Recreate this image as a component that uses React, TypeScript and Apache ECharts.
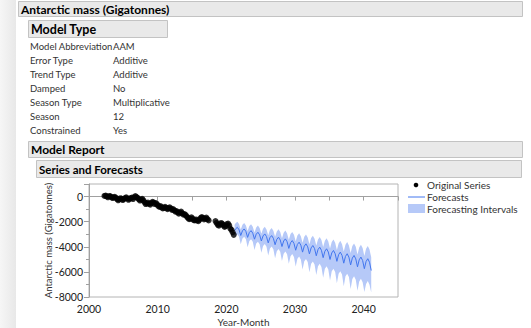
import React, { useEffect, useRef } from "react";
import * as echarts from "echarts";

// ---------- Data ----------
const origYears = [
  2002.25, 2002.42, 2002.58, 2002.75, 2002.92,
  2003.08, 2003.25, 2003.42, 2003.58, 2003.75, 2003.92,
  2004.08, 2004.25, 2004.42, 2004.58, 2004.75, 2004.92,
  2005.08, 2005.25, 2005.42, 2005.58, 2005.75, 2005.92,
  2006.08, 2006.25, 2006.42, 2006.58, 2006.75, 2006.92,
  2007.08, 2007.25, 2007.42, 2007.58, 2007.75, 2007.92,
  2008.08, 2008.25, 2008.42, 2008.58, 2008.75, 2008.92,
  2009.08, 2009.25, 2009.42, 2009.58, 2009.75, 2009.92,
  2010.08, 2010.25, 2010.42, 2010.58, 2010.75, 2010.92,
  2011.08, 2011.25, 2011.42, 2011.58, 2011.75, 2011.92,
  2012.08, 2012.25, 2012.42, 2012.58, 2012.75, 2012.92,
  2013.08, 2013.25, 2013.42, 2013.58, 2013.75, 2013.92,
  2014.08, 2014.25, 2014.42, 2014.58, 2014.75, 2014.92,
  2015.08, 2015.25, 2015.42, 2015.58, 2015.75, 2015.92,
  2016.08, 2016.25, 2016.42, 2016.58, 2016.75, 2016.92,
  2017.08, 2017.25, 2017.42,
  2018.42, 2018.58, 2018.75, 2018.92,
  2019.08, 2019.25, 2019.42, 2019.58, 2019.75, 2019.92,
  2020.08, 2020.25, 2020.42, 2020.58, 2020.75, 2020.92,
  2021.08,
];
const origValues = [
  50, 80, 20, -60, 30,
  40, -40, -120, -60, -20, -100,
  -200, -300, -220, -130, -180, -280,
  -200, -120, -60, -150, -260, -180,
  -120, -80, -200, -60, 40, -40,
  -100, -220, -320, -250, -180, -300,
  -450, -600, -550, -480, -580, -650,
  -520, -420, -480, -600, -520, -620,
  -750, -820, -760, -860, -950, -900,
  -820, -900, -1000, -920, -860, -960,
  -1060, -1000, -1100, -1200, -1150, -1260,
  -1360, -1280, -1200, -1330, -1450, -1400,
  -1480, -1600, -1700, -1800, -1760, -1650,
  -1750, -1880, -1900, -1820, -1900, -1960,
  -1850, -1720, -1640, -1700, -1820, -1760,
  -1680, -1800, -1900,
  -1950, -2100, -2250, -2320,
  -2200, -2100, -2180, -2300, -2420, -2350,
  -2200, -2150, -2300, -2550, -2650, -2850,
  -3050,
];

const fcYears = [
  2021.2, 2021.35, 2021.6, 2021.85,
  2022.1, 2022.35, 2022.6, 2022.85,
  2023.1, 2023.35, 2023.6, 2023.85,
  2024.1, 2024.35, 2024.6, 2024.85,
  2025.1, 2025.35, 2025.6, 2025.85,
  2026.1, 2026.35, 2026.6, 2026.85,
  2027.1, 2027.35, 2027.6, 2027.85,
  2028.1, 2028.35, 2028.6, 2028.85,
  2029.1, 2029.35, 2029.6, 2029.85,
  2030.1, 2030.35, 2030.6, 2030.85,
  2031.1, 2031.35, 2031.6, 2031.85,
  2032.1, 2032.35, 2032.6, 2032.85,
  2033.1, 2033.35, 2033.6, 2033.85,
  2034.1, 2034.35, 2034.6, 2034.85,
  2035.1, 2035.35, 2035.6, 2035.85,
  2036.1, 2036.35, 2036.6, 2036.85,
  2037.1, 2037.35, 2037.6, 2037.85,
  2038.1, 2038.35, 2038.6, 2038.85,
  2039.1, 2039.35, 2039.6, 2039.85,
  2040.1, 2040.35, 2040.6, 2040.85,
  2041.1,
];
const fcValues = [
  -2700, -2580, -2450, -2645,
  -3100, -2726, -2580, -2781,
  -3250, -2865, -2715, -2919,
  -3395, -2999, -2845, -3053,
  -3540, -3133, -2975, -3190,
  -3690, -3272, -3110, -3327,
  -3835, -3407, -3240, -3462,
  -3980, -3541, -3370, -3598,
  -4130, -3680, -3505, -3736,
  -4275, -3814, -3635, -3872,
  -4425, -3950, -3765, -4006,
  -4570, -4088, -3900, -4144,
  -4715, -4222, -4030, -4280,
  -4865, -4357, -4160, -4415,
  -5010, -4495, -4295, -4554,
  -5160, -4631, -4425, -4689,
  -5305, -4765, -4555, -4823,
  -5450, -4903, -4690, -4963,
  -5600, -5038, -4820, -5097,
  -5745, -5173, -4950, -5232,
  -5890,
];
const fcUpper = [
  -2250, -2130, -2000, -2195,
  -2620, -2246, -2100, -2301,
  -2740, -2355, -2205, -2409,
  -2855, -2459, -2305, -2513,
  -2970, -2563, -2405, -2620,
  -3090, -2672, -2510, -2727,
  -3205, -2777, -2610, -2832,
  -3320, -2881, -2710, -2938,
  -3440, -2990, -2815, -3046,
  -3555, -3094, -2915, -3152,
  -3675, -3200, -3015, -3256,
  -3790, -3308, -3120, -3364,
  -3905, -3412, -3220, -3470,
  -4025, -3517, -3320, -3575,
  -4140, -3625, -3425, -3684,
  -4260, -3731, -3525, -3789,
  -4375, -3835, -3625, -3893,
  -4490, -3943, -3730, -4003,
  -4610, -4048, -3830, -4107,
  -4725, -4153, -3930, -4212,
  -4840,
];
const fcLower = [
  -3250, -3130, -3000, -3195,
  -3807, -3341, -3195, -3396,
  -4032, -3545, -3395, -3599,
  -4252, -3744, -3590, -3798,
  -4472, -3943, -3785, -4000,
  -4696, -4147, -3985, -4202,
  -4916, -4347, -4180, -4402,
  -5136, -4546, -4375, -4603,
  -5360, -4750, -4575, -4806,
  -5580, -4949, -4770, -5007,
  -5805, -5150, -4965, -5206,
  -6025, -5353, -5165, -5409,
  -6245, -5552, -5360, -5610,
  -6469, -5752, -5555, -5810,
  -6689, -5955, -5755, -6014,
  -6914, -6156, -5950, -6214,
  -7134, -6355, -6145, -6413,
  -7353, -6558, -6345, -6618,
  -7500, -6758, -6540, -6817,
  -7600, -6958, -6735, -7017,
  -7650,
];

const reportTitle = "Antarctic mass (Gigatonnes)";
const modelTypeTitle = "Model Type";
const modelLabels = ["Model Abbreviation", "Error Type", "Trend Type", "Damped", "Season Type", "Season", "Constrained"];
const modelValues = ["AAM", "Additive", "Additive", "No", "Multiplicative", "12", "Yes"];
const modelReportTitle = "Model Report";
const seriesTitle = "Series and Forecasts";
const legendLabels = ["Original Series", "Forecasts", "Forecasting Intervals"];
const yAxisTitle = "Antarctic mass (Gigatonnes)";
const xAxisTitle = "Year-Month";

const FONT = "Lato, 'Liberation Sans', sans-serif";
const BAND = "#b6c9f8";
const LINE = "#4276ee";

export default function App() {
  const ref = useRef<HTMLDivElement>(null);
  useEffect(() => {
    if (!ref.current) return;
    const chart = echarts.init(ref.current, undefined, { renderer: "svg" });

    const header = (x: number, y: number, w: number, h: number, text: string, size: number) => [
      { type: "rect", shape: { x: x + 0.5, y: y + 0.5, width: w, height: h }, style: { fill: "#e9e9e9", stroke: "#c3c3c3", lineWidth: 1 }, silent: true },
      { type: "text", x: x + 3, y: y + h / 2 + 0.5, style: { text, font: `bold ${size}px ${FONT}`, fill: "#000", verticalAlign: "middle" }, silent: true },
    ];

    const tableEls: any[] = [];
    modelLabels.forEach((lab, i) => {
      const y = 46 + i * 14;
      tableEls.push({ type: "text", x: 30, y, style: { text: lab, font: `9.5px ${FONT}`, fill: "#333", verticalAlign: "middle" }, silent: true });
      tableEls.push({ type: "text", x: 113, y, style: { text: modelValues[i], font: `9.5px ${FONT}`, fill: "#333", verticalAlign: "middle" }, silent: true });
    });

    const legendEls: any[] = [
      { type: "circle", shape: { cx: 416, cy: 185, r: 2.3 }, style: { fill: "#000" }, silent: true },
      { type: "text", x: 427, y: 185, style: { text: legendLabels[0], font: `10px ${FONT}`, fill: "#333", verticalAlign: "middle" }, silent: true },
      { type: "line", shape: { x1: 408, y1: 197, x2: 425, y2: 197 }, style: { stroke: LINE, lineWidth: 1 }, silent: true },
      { type: "text", x: 427, y: 197, style: { text: legendLabels[1], font: `10px ${FONT}`, fill: "#333", verticalAlign: "middle" }, silent: true },
      { type: "rect", shape: { x: 408, y: 204, width: 17, height: 9 }, style: { fill: BAND }, silent: true },
      { type: "text", x: 427, y: 208.5, style: { text: legendLabels[2], font: `10px ${FONT}`, fill: "#333", verticalAlign: "middle" }, silent: true },
    ];

    const graphic: any[] = [
      {
        type: "rect", shape: { x: 0, y: 0, width: 16, height: 328 },
        style: { fill: new echarts.graphic.LinearGradient(0, 0, 1, 0, [{ offset: 0, color: "#f6f6f6" }, { offset: 1, color: "#e8e8e8" }]) },
        silent: true,
      },
      ...header(18, 1, 504, 15, reportTitle, 12),
      ...header(28, 20, 139, 17, modelTypeTitle, 12.5),
      ...tableEls,
      ...header(28, 141, 494, 16, modelReportTitle, 12),
      ...header(36, 160, 485, 17, seriesTitle, 11.5),
      ...legendEls,
    ];

    const fmt = (v: number) => String(v);

    chart.setOption({
      animation: false,
      textStyle: { fontFamily: FONT },
      grid: { left: 89, right: 133, top: 184, bottom: 27, show: true, borderColor: "#b4b4b4", borderWidth: 1, backgroundColor: "transparent" },
      xAxis: {
        type: "value", min: 2000, max: 2045, interval: 10,
        axisLine: { show: true, lineStyle: { color: "#a0a0a0" } },
        axisTick: { show: true, length: 4, lineStyle: { color: "#a0a0a0" } },
        minorTick: { show: true, splitNumber: 2, length: 4, lineStyle: { color: "#a0a0a0" } },
        splitLine: { show: false },
        axisLabel: { color: "#222", fontSize: 10.5, margin: 6, showMaxLabel: false, fontFamily: FONT, formatter: fmt },
        name: xAxisTitle, nameLocation: "middle", nameGap: 20, nameMoveOverlap: false,
        nameTextStyle: { color: "#333", fontSize: 10, fontFamily: FONT },
      },
      yAxis: {
        type: "value", min: -8000, max: 1000, interval: 2000,
        axisLine: { show: true, lineStyle: { color: "#a0a0a0" } },
        axisTick: { show: true, length: 5, lineStyle: { color: "#a0a0a0" } },
        minorTick: { show: true, splitNumber: 2, length: 3, lineStyle: { color: "#a0a0a0" } },
        splitLine: { show: false },
        axisLabel: { color: "#222", fontSize: 10.5, margin: 6, showMaxLabel: false, fontFamily: FONT, formatter: fmt },
        name: yAxisTitle, nameLocation: "middle", nameGap: 36, nameMoveOverlap: false,
        nameTextStyle: { color: "#333", fontSize: 9.5, fontFamily: FONT },
      },
      graphic,
      series: [
        {
          type: "custom",
          name: legendLabels[2],
          silent: true,
          z: 1,
          data: [[fcYears[0], fcValues[0]]],
          renderItem: (_params: any, api: any) => {
            const pts: number[][] = [];
            for (let i = 0; i < fcYears.length; i++) pts.push(api.coord([fcYears[i], fcUpper[i]]));
            for (let i = fcYears.length - 1; i >= 0; i--) pts.push(api.coord([fcYears[i], fcLower[i]]));
            return { type: "polygon", shape: { points: pts }, style: { fill: BAND } };
          },
        },
        {
          type: "line",
          name: legendLabels[1],
          z: 2,
          symbol: "none",
          data: fcYears.map((x, i) => [x, fcValues[i]]),
          lineStyle: { color: LINE, width: 1 },
        },
        {
          type: "scatter",
          name: legendLabels[0],
          z: 3,
          symbol: "circle",
          symbolSize: 6,
          data: origYears.map((x, i) => [x, origValues[i]]),
          itemStyle: { color: "#000" },
        },
      ],
    });
    return () => chart.dispose();
  }, []);

  return <div ref={ref} style={{ position: "absolute", left: 0, top: 0, width: 531, height: 328, background: "#fff" }} />;
}
